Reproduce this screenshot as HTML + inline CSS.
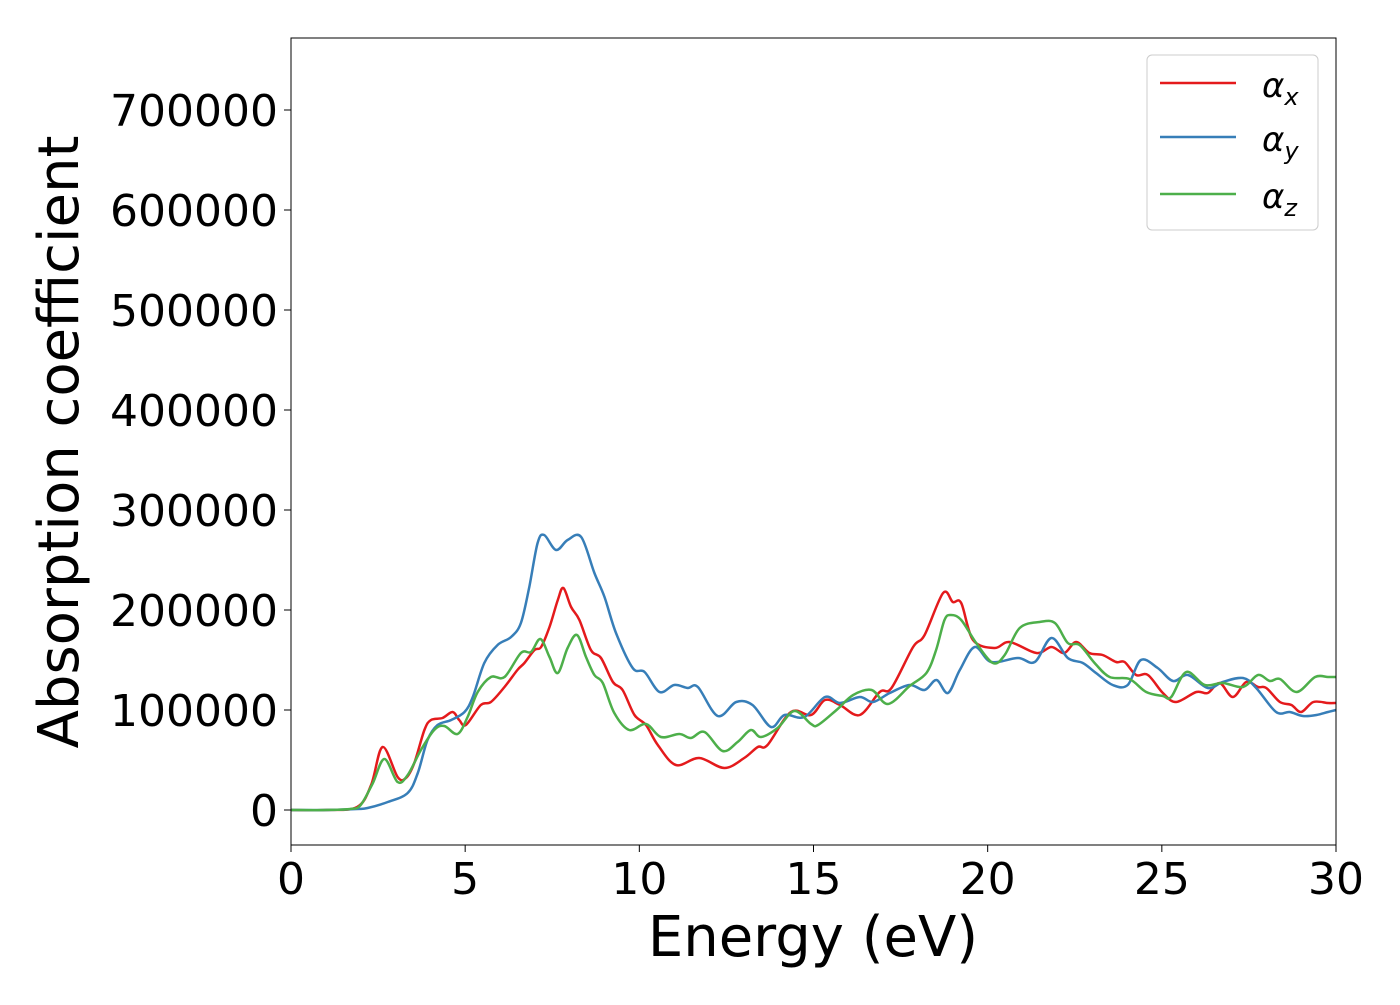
<!DOCTYPE html>
<html><head><meta charset="utf-8"><style>
body{margin:0;background:#fff}
svg text{font-family:"DejaVu Sans","Liberation Sans",sans-serif}
</style></head><body>
<svg id="chart" width="1400" height="1000" viewBox="0 0 1400 1000" xmlns="http://www.w3.org/2000/svg">
<rect width="1400" height="1000" fill="#fff"/>
<g id="plot"></g>
<rect x="291" y="38" width="1045" height="807" fill="none" stroke="#000" stroke-width="1"/>
<g id="ticks"></g>
<text x="813" y="956" font-size="56" text-anchor="middle">Energy (eV)</text>
<text transform="translate(78,442) rotate(-90)" font-size="56" text-anchor="middle">Absorption coefficient</text>
<g>
<rect x="1147" y="55" width="171" height="175" rx="5" fill="#fff" stroke="#ccc" stroke-width="1"/>
<line x1="1160" y1="83" x2="1236" y2="83" stroke="#e41a1c" stroke-width="2.5"/>
<text x="1262" y="97" font-size="34" font-style="italic">α<tspan font-size="24" dy="8">x</tspan></text>
<line x1="1160" y1="137" x2="1236" y2="137" stroke="#377eb8" stroke-width="2.5"/>
<text x="1262" y="151" font-size="34" font-style="italic">α<tspan font-size="24" dy="8">y</tspan></text>
<line x1="1160" y1="194" x2="1236" y2="194" stroke="#4daf4a" stroke-width="2.5"/>
<text x="1262" y="208" font-size="34" font-style="italic">α<tspan font-size="24" dy="8">z</tspan></text>
</g>
</svg>
<script>
const xTicks=[0,5,10,15,20,25,30];
const yTicks=[0,100000,200000,300000,400000,500000,600000,700000];
const ex=[0,1,1.9,2.3,2.63,3.06,3.3,3.54,3.83,4.02,4.35,4.64,4.83,5.02,5.45,5.74,6.13,6.5,6.7,6.99,7.18,7.42,7.66,7.82,8.04,8.28,8.61,8.9,9.24,9.52,9.86,10.19,10.53,11.05,11.72,12.44,13.01,13.4,13.68,14.35,14.93,15.33,15.76,16.33,16.9,17.24,17.86,18.19,18.72,19.0,19.24,19.58,20.2,20.63,21.4,21.83,22.2,22.54,22.92,23.3,23.69,23.93,24.26,24.6,25.03,25.41,25.99,26.32,26.66,27.04,27.42,27.76,28.0,28.39,28.72,29.0,29.35,29.77,30];
const vx=[0,0,3,25,63,33,32,47,80,90,92,98,90,85,105,108,123,140,147,160,163,183,210,222,203,190,160,152,128,120,95,85,65,45,52,42,52,63,65,98,95,110,105,95,118,122,163,175,217,208,207,170,162,168,157,163,157,168,157,155,148,148,135,135,117,108,118,117,127,113,128,123,122,108,105,98,108,107,107];
const ey=[0,1,1.9,2.2,2.78,3.35,3.64,3.92,4.21,4.6,4.98,5.22,5.55,5.93,6.32,6.6,6.84,7.08,7.27,7.61,7.94,8.33,8.71,9.0,9.33,9.81,10.15,10.58,11.0,11.39,11.68,12.25,12.78,13.25,13.78,14.17,14.74,15.33,15.76,16.33,16.71,17.19,17.76,18.19,18.53,18.86,19.2,19.63,20.1,20.87,21.35,21.83,22.3,22.73,23.11,23.59,24.02,24.4,24.88,25.32,25.75,26.32,26.75,27.33,27.71,28.28,28.67,29.05,29.44,29.77,30];
const vy=[0,0,1,2,8,17,37,70,85,90,98,113,147,165,173,187,223,267,275,260,270,273,237,213,177,142,138,118,125,122,123,94,108,105,83,95,93,113,107,113,108,117,125,120,130,117,140,163,148,152,148,172,152,147,137,125,125,150,142,129,135,122,128,132,122,98,98,94,95,98,100];
const ez=[0,1,1.7,2.0,2.35,2.68,3.06,3.35,3.73,4.11,4.4,4.78,5.07,5.36,5.74,6.13,6.6,6.89,7.16,7.42,7.66,7.94,8.21,8.47,8.71,8.95,9.28,9.71,10.19,10.62,11.15,11.48,11.87,12.39,12.82,13.2,13.49,13.97,14.45,14.93,15.13,15.66,16.14,16.67,17.14,17.76,18.24,18.52,18.76,18.95,19.24,19.67,20.15,20.49,20.92,21.49,21.93,22.3,22.64,23.07,23.5,24.07,24.55,25.03,25.27,25.7,26.23,26.75,27.33,27.76,28.1,28.39,28.87,29.4,29.77,30];
const vz=[0,0,1,5,27,51,28,35,60,80,84,76,93,118,133,133,157,158,171,153,137,162,175,153,135,127,97,80,86,73,76,72,78,59,68,80,73,82,99,86,85,100,115,120,106,124,137,160,190,195,190,167,147,155,182,188,187,167,165,147,133,131,118,114,113,138,125,127,123,135,129,131,118,133,133,133];
const X=e=>291+e*(1045/30);
const Y=v=>810-v/1000;
const NS="http://www.w3.org/2000/svg";
const plot=document.getElementById('plot');
function pathD(es,vs){
  const p=es.map((e,i)=>[X(e),Y(vs[i]*1000)]);
  let d='M'+p[0][0].toFixed(1)+','+p[0][1].toFixed(1);
  for(let i=0;i<p.length-1;i++){
    const p0=p[Math.max(i-1,0)],p1=p[i],p2=p[i+1],p3=p[Math.min(i+2,p.length-1)];
    const c1=[p1[0]+(p2[0]-p0[0])/6,p1[1]+(p2[1]-p0[1])/6];
    const c2=[p2[0]-(p3[0]-p1[0])/6,p2[1]-(p3[1]-p1[1])/6];
    d+=`C${c1[0].toFixed(1)},${c1[1].toFixed(1)} ${c2[0].toFixed(1)},${c2[1].toFixed(1)} ${p2[0].toFixed(1)},${p2[1].toFixed(1)}`;
  }
  return d;
}
[[ex,vx,'#e41a1c','series-alpha-x'],[ey,vy,'#377eb8','series-alpha-y'],[ez,vz,'#4daf4a','series-alpha-z']].forEach(s=>{
  const el=document.createElementNS(NS,'path');
  el.setAttribute('d',pathD(s[0],s[1]));
  el.setAttribute('fill','none');el.setAttribute('stroke',s[2]);el.setAttribute('stroke-width','2.5');
  
  
  plot.appendChild(el);
});
const tg=document.getElementById('ticks');
xTicks.forEach(t=>{
  const l=document.createElementNS(NS,'line');
  l.setAttribute('x1',X(t));l.setAttribute('x2',X(t));l.setAttribute('y1',845);l.setAttribute('y2',852);l.setAttribute('stroke','#000');
  
  
  tg.appendChild(l);
  const tx=document.createElementNS(NS,'text');
  tx.setAttribute('x',X(t));tx.setAttribute('y',894);tx.setAttribute('font-size','44');tx.setAttribute('text-anchor','middle');
  tx.textContent=t;
  
  
  tg.appendChild(tx);
});
yTicks.forEach(t=>{
  const l=document.createElementNS(NS,'line');
  l.setAttribute('x1',284);l.setAttribute('x2',291);l.setAttribute('y1',Y(t));l.setAttribute('y2',Y(t));l.setAttribute('stroke','#000');
  
  
  tg.appendChild(l);
  const tx=document.createElementNS(NS,'text');
  tx.setAttribute('x',278);tx.setAttribute('y',Y(t)+16);tx.setAttribute('font-size','44');tx.setAttribute('text-anchor','end');
  tx.textContent=t;
  
  
  tg.appendChild(tx);
});
</script>
</body></html>
